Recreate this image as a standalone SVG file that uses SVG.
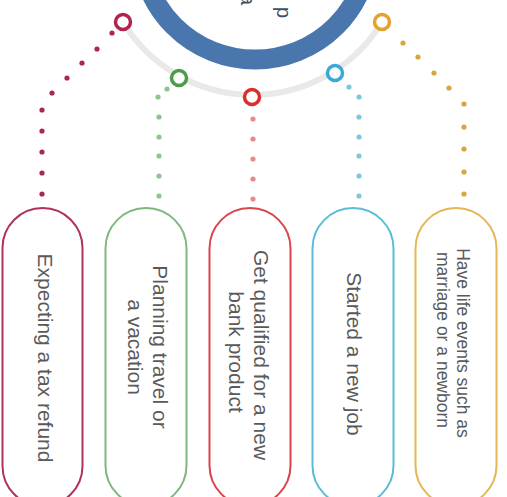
<svg xmlns="http://www.w3.org/2000/svg" width="507" height="497" viewBox="0 0 507 497">
<style>
.pill{fill:#fff;stroke-width:2}
.ring{fill:#fff;stroke-width:3.5}
.lbl{font-family:"Liberation Sans",Arial,sans-serif;font-size:21px;fill:#5a5a5a;text-anchor:middle}
.sm{font-size:17.5px}
.c1{fill:#a9284f}.c2{fill:#8dc68d}.c3{fill:#e8898a}.c4{fill:#7cc8dc}.c5{fill:#d8a63c}
</style>
<rect width="507" height="497" fill="#fff"/>
<g id="hub">
<circle cx="255" cy="-55" r="114.6" fill="#fff" stroke="#4a76ae" stroke-width="20"/>
<text class="lbl" style="fill:#3f4f68;font-size:20px;text-anchor:end" transform="translate(277,18) rotate(90)">p</text>
<text class="lbl" style="fill:#3f4f68;font-size:20px;text-anchor:end" transform="translate(241,5) rotate(90)">a</text>
</g>
<path id="track" d="M123,22 A151.5,151.5 0 0 0 382,22" fill="none" stroke="#e9e9e9" stroke-width="6"/>
<g id="connectors">
<g class="c1"><circle cx="112" cy="33" r="2.6"/><circle cx="97" cy="49" r="2.6"/><circle cx="82" cy="63" r="2.6"/><circle cx="67" cy="78" r="2.6"/><circle cx="52" cy="93" r="2.6"/><circle cx="42" cy="110" r="2.6"/><circle cx="42" cy="131" r="2.6"/><circle cx="42" cy="152" r="2.6"/><circle cx="42" cy="173" r="2.6"/><circle cx="42" cy="194" r="2.6"/></g>
<g class="c2"><circle cx="167" cy="89" r="2.6"/><circle cx="158" cy="97" r="2.6"/><circle cx="159" cy="117" r="2.6"/><circle cx="159" cy="137" r="2.6"/><circle cx="159" cy="156" r="2.6"/><circle cx="159" cy="176" r="2.6"/><circle cx="159" cy="196" r="2.6"/></g>
<g class="c3"><circle cx="253" cy="119" r="2.6"/><circle cx="253" cy="139" r="2.6"/><circle cx="253" cy="159" r="2.6"/><circle cx="253" cy="179" r="2.6"/><circle cx="253" cy="199" r="2.6"/></g>
<g class="c4"><circle cx="349" cy="87" r="2.6"/><circle cx="359" cy="97" r="2.6"/><circle cx="359" cy="117" r="2.6"/><circle cx="359" cy="137" r="2.6"/><circle cx="359" cy="156" r="2.6"/><circle cx="359" cy="176" r="2.6"/><circle cx="359" cy="196" r="2.6"/></g>
<g class="c5"><circle cx="403" cy="43" r="2.6"/><circle cx="418" cy="57" r="2.6"/><circle cx="434" cy="73" r="2.6"/><circle cx="449" cy="88" r="2.6"/><circle cx="464" cy="104" r="2.6"/><circle cx="464" cy="127" r="2.6"/><circle cx="464" cy="149" r="2.6"/><circle cx="464" cy="172" r="2.6"/><circle cx="464" cy="194" r="2.6"/></g>
</g>
<g id="rings">
<circle class="ring" cx="123" cy="22" r="7.5" stroke="#b3234f"/>
<circle class="ring" cx="179" cy="78" r="7.5" stroke="#4a9d4c"/>
<circle class="ring" cx="252" cy="97" r="7.5" stroke="#d8302c"/>
<circle class="ring" cx="335" cy="73" r="7.5" stroke="#3aa9d6"/>
<circle class="ring" cx="382" cy="22" r="7.5" stroke="#e2a22c"/>
</g>
<g id="node1">
<rect class="pill" x="2.5" y="208" width="80" height="298" rx="40" stroke="#b0325a"/>
<text class="lbl" transform="translate(38,358) rotate(90)">Expecting a tax refund</text>
</g>
<g id="node2">
<rect class="pill" x="105.5" y="208" width="81" height="298" rx="40.5" stroke="#7db87e"/>
<text class="lbl" transform="translate(153,347) rotate(90)">Planning travel or</text>
<text class="lbl" transform="translate(128,347) rotate(90)">a vacation</text>
</g>
<g id="node3">
<rect class="pill" x="209.5" y="208" width="81" height="298" rx="40.5" stroke="#d9464a"/>
<text class="lbl" transform="translate(254,355) rotate(90)">Get qualified for a new</text>
<text class="lbl" transform="translate(229,352) rotate(90)">bank product</text>
</g>
<g id="node4">
<rect class="pill" x="312.5" y="208" width="81" height="298" rx="40.5" stroke="#5bbcd8"/>
<text class="lbl" transform="translate(347,354) rotate(90)">Started a new job</text>
</g>
<g id="node5">
<rect class="pill" x="415.5" y="208" width="81" height="298" rx="40.5" stroke="#e5b655"/>
<text class="lbl sm" transform="translate(457,343) rotate(90)">Have life events such as</text>
<text class="lbl sm" transform="translate(437,340) rotate(90)">marriage or a newborn</text>
</g>
</svg>
